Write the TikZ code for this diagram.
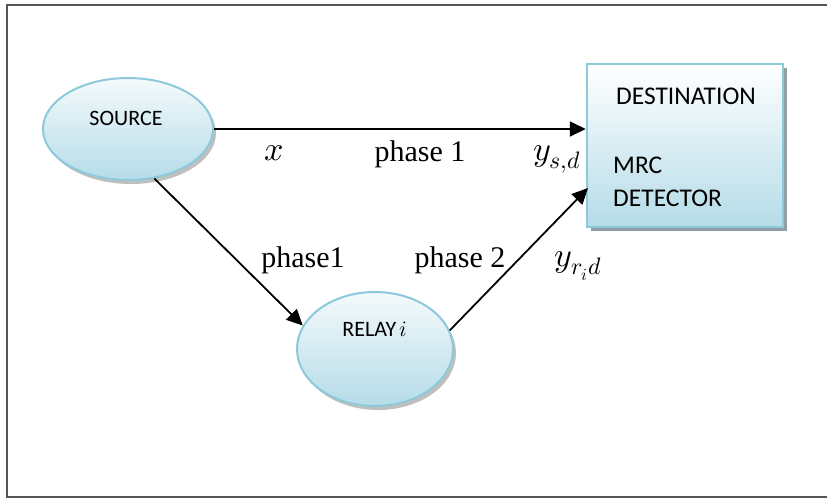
\documentclass[tikz,border=0pt]{standalone}
\usepackage{unicode-math}
\setmainfont{Liberation Serif}
\setmathfont{Latin Modern Math}
\newfontfamily\calibfont{Carlito}
\usetikzlibrary{arrows.meta,shadows,shapes.geometric}
\definecolor{rim}{HTML}{8CC9DA}
\definecolor{fillbot}{HTML}{B5DCE8}
\definecolor{filltop}{HTML}{F4FAFC}
\definecolor{framegray}{HTML}{555555}
\tikzset{
  blob/.style={ellipse, draw=rim, line width=2pt, top color=filltop, bottom color=fillbot,
    drop shadow={shadow xshift=3pt, shadow yshift=-4pt, fill=black, opacity=.25}},
  destbox/.style={rectangle, draw=rim, line width=2.5pt, top color=white, bottom color=fillbot,
    drop shadow={shadow xshift=4pt, shadow yshift=-4pt, fill=gray!70!rim, opacity=.9}},
  conn/.style={line width=1.8pt, -{Triangle[length=16pt,width=15pt]}},
  lbl/.style={font=\fontsize{30}{36}\selectfont, inner sep=0pt, anchor=base},
  mlbl/.style={font=\fontsize{34}{40}\selectfont, inner sep=0pt, anchor=base},
  boxtxt/.style={font=\calibfont\fontsize{22}{26}\selectfont, inner sep=0pt},
  desttxt/.style={font=\calibfont\fontsize{25.5}{30}\selectfont, inner sep=0pt}
}
\begin{document}
\begin{tikzpicture}[x=1pt,y=-1pt]
\useasboundingbox (0,0) rectangle (827,499);
% frame
\draw[framegray, line width=2.2pt] (840,5) -- (7,5) -- (7,497) -- (840,497);
% nodes
\node[blob, minimum width=170pt, minimum height=102pt] (src) at (128,129) {};
\node[blob, minimum width=156pt, minimum height=114pt] (rel) at (375,349) {};
\node[destbox, minimum width=196pt, minimum height=163pt] (dst) at (685,145.5) {};
\node[boxtxt] (srct) at (126,118.5) {SOURCE};
\node[boxtxt] (relt) at (375,329) {RELAY\,$i$};
\node[desttxt] (dstt) at (686,96) {DESTINATION};
\node[desttxt, anchor=west] (mrct) at (613,165) {MRC};
\node[desttxt, anchor=west] (dett) at (613,198) {DETECTOR};
\coordinate (t2) at (588,188);
% connectors
\draw[conn] (src.east) -- (src.east -| dst.west);
\draw[conn] (src.-62) -- (rel.162);
\draw[conn] (rel.14) -- (t2);
% labels
\node[mlbl] (lx) at (274,160) {$x$};
\node[lbl] (lp1) at (420,161) {phase 1};
\node[mlbl] (lysd) at (557,160) {$y_{s,d}$};
\node[lbl] (lp1b) at (303,267) {phase1};
\node[lbl] (lp2) at (460,267) {phase 2};
\node[mlbl] (lyrd) at (578,266) {$y_{r_i d}$};
\end{tikzpicture}
\end{document}
